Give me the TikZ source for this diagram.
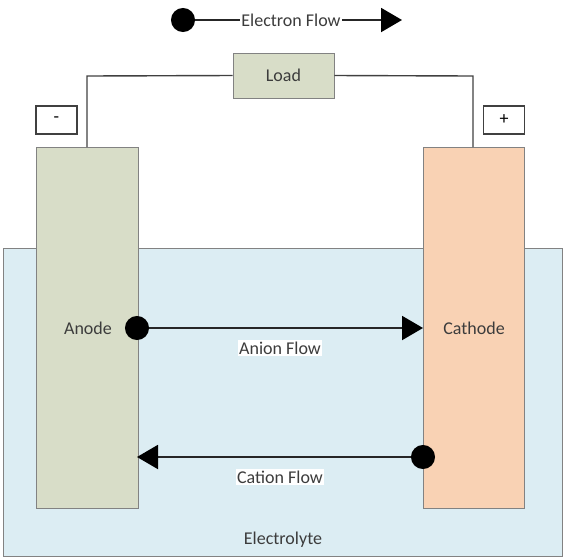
\documentclass[tikz,border=0pt]{standalone}
\usepackage{fontspec}
\setmainfont{Carlito}
\usetikzlibrary{arrows.meta}
\definecolor{anodec}{RGB}{216,221,200}
\definecolor{cathc}{RGB}{249,210,180}
\definecolor{elecc}{RGB}{220,237,243}
\definecolor{edgec}{RGB}{130,130,130}
\definecolor{txtc}{RGB}{60,60,60}
\begin{document}
\begin{tikzpicture}[x=1pt,y=-1pt,
  lbl/.style={text=txtc,font=\fontsize{18}{21}\selectfont,inner sep=1.5pt},
  box/.style={draw=edgec,line width=0.9pt,inner sep=0},
  sign/.style={draw=black!75,line width=1.2pt,minimum width=41pt,minimum height=28pt,inner sep=0,lbl,text=black},
  flow/.style={line width=2pt,black!85,{Circle[length=24pt,black]}-{Triangle[length=21pt,width=24pt,black]}},
  wire/.style={line width=1.4pt,black!75}]
\useasboundingbox (0,0) rectangle (565,558);
% electrolyte
\node[box,fill=elecc,minimum width=559pt,minimum height=308pt,anchor=north west] (elec) at (3,248) {};
\node[lbl] (electext) at (283,540) {Electrolyte};
% electrodes
\node[box,fill=anodec,minimum width=102pt,minimum height=361pt,anchor=north west] (anode) at (36,147) {};
\node[box,fill=cathc,minimum width=101pt,minimum height=361pt,anchor=north west] (cathode) at (423,147) {};
\node[lbl] (anodetext) at (88,328) {Anode};
\node[lbl] (cathtext) at (474,328) {Cathode};
% load
\node[box,fill=anodec,minimum width=101pt,minimum height=45pt,lbl] (load) at (283.5,75.5) {Load};
\coordinate (lt) at (87,76);
\coordinate (lb) at (87,147);
\coordinate (rt) at (473,76);
\coordinate (rb) at (473,147);
\draw[wire] (load.west) -- (lt) -- (lb);
\draw[wire] (load.east) -- (rt) -- (rb);
% sign boxes
\node[sign] (minus) at (56.5,120) {-};
\node[sign] (plus) at (504,120) {+};
% electron flow
\coordinate (es) at (171,20);
\coordinate (ee) at (402,20);
\draw[flow] (es) -- (ee);
\node[lbl,fill=white] (etext) at (291,20) {Electron Flow};
% anion flow
\coordinate (as) at (125,328);
\coordinate (ae) at (423,328);
\draw[flow] (as) -- (ae);
\node[lbl,fill=white] (atext) at (280,348) {Anion Flow};
% cation flow
\coordinate (cs) at (435,457);
\coordinate (ce) at (137,457);
\draw[flow] (cs) -- (ce);
\node[lbl,fill=white] (ctext) at (280,477) {Cation Flow};
\end{tikzpicture}
\end{document}
